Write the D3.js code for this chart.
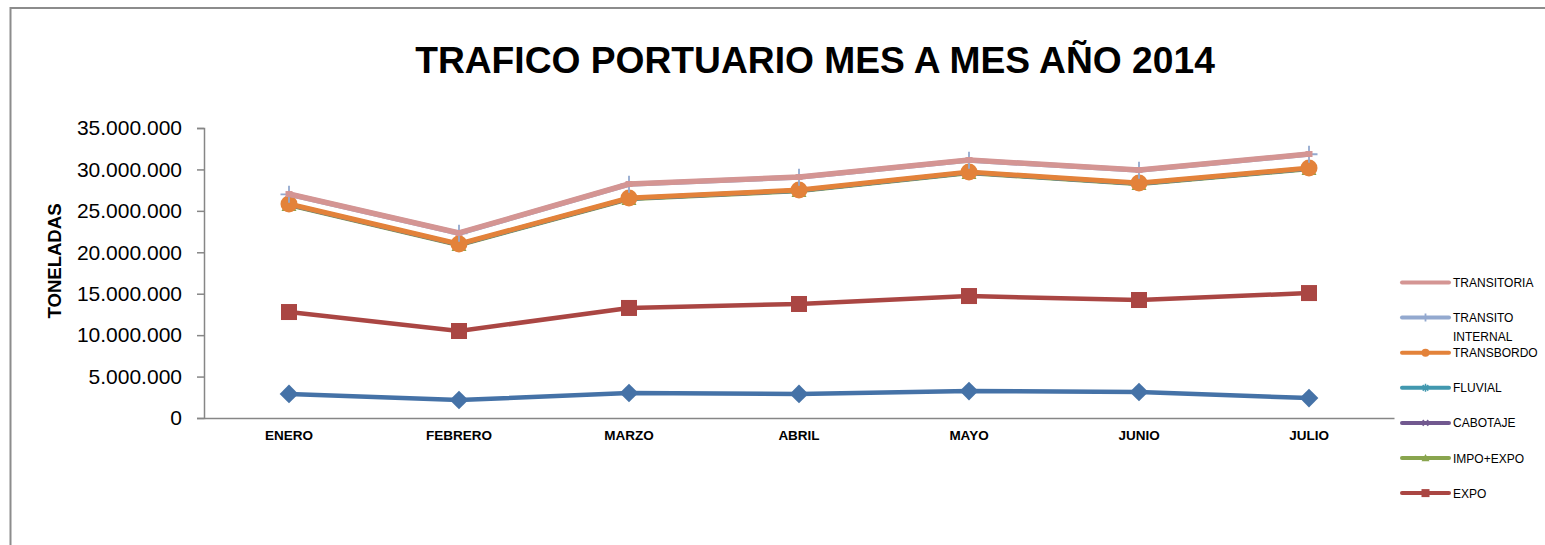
<!DOCTYPE html>
<html>
<head>
<meta charset="utf-8">
<script src="https://cdn.jsdelivr.net/npm/d3@7"></script>
<style>
  html, body { margin: 0; padding: 0; background: #fff; }
  svg { display: block; }
  text { font-family: "Liberation Sans", Arial, sans-serif; fill: #000; }
</style>
</head>
<body>
<svg id="chart" width="1545" height="545"></svg>
<script>
// ---- data (plotted values, tonnes; stacked-line chart as shown) ----
const months = ["ENERO", "FEBRERO", "MARZO", "ABRIL", "MAYO", "JUNIO", "JULIO"];
const impo        = [2900000, 2170000, 3020000, 2900000, 3250000, 3140000, 2410000];
const expo        = [12790000, 10500000, 13280000, 13760000, 14720000, 14240000, 15080000];
const impoExpo    = [25710000, 20880000, 26430000, 27400000, 29570000, 28240000, 30050000];
const cabotaje    = [25770000, 20940000, 26490000, 27460000, 29630000, 28300000, 30110000];
const fluvial     = [25780000, 20950000, 26500000, 27470000, 29640000, 28310000, 30120000];
const transbordo  = [25830000, 21000000, 26550000, 27520000, 29690000, 28360000, 30170000];
const transito    = [27000000, 22300000, 28210000, 29050000, 31100000, 29900000, 31830000];
const transitoria = [27030000, 22330000, 28240000, 29080000, 31130000, 29930000, 31860000];
const yTicks = [0, 5000000, 10000000, 15000000, 20000000, 25000000, 30000000, 35000000];
const seriesNames = ["IMPO", "EXPO", "IMPO+EXPO", "CABOTAJE", "FLUVIAL", "TRANSBORDO", "TRANSITO INTERNAL", "TRANSITORIA"];
const legendOrder = ["TRANSITORIA", "TRANSITO INTERNAL", "TRANSBORDO", "FLUVIAL", "CABOTAJE", "IMPO+EXPO", "EXPO"];
const titleText = "TRAFICO PORTUARIO MES A MES AÑO 2014";
const yTitle = "TONELADAS";

// ---- styles ----
const seriesValues = [impo, expo, impoExpo, cabotaje, fluvial, transbordo, transito, transitoria];
const styles = {
  "IMPO":              {color: "#4572A7", marker: "diamond", width: 4.5},
  "EXPO":              {color: "#AA4643", marker: "square", width: 4.5},
  "IMPO+EXPO":         {color: "#89A54E", marker: "triangle", width: 4.5},
  "CABOTAJE":          {color: "#71588F", marker: "x", width: 4.5},
  "FLUVIAL":           {color: "#4198AF", marker: "star", width: 4.5},
  "TRANSBORDO":        {color: "#E3823A", marker: "circle", width: 5},
  "TRANSITO INTERNAL": {color: "#93A9CF", marker: "plus", width: 5},
  "TRANSITORIA":       {color: "#D49593", marker: "dash", width: 5.5}
};

const svg = d3.select("#chart");

// chart frame
svg.append("path")
  .attr("d", "M10.5,545 L10.5,8 L1545,8")
  .attr("fill", "none").attr("stroke", "#8c8c8c").attr("stroke-width", 2);

const x = d3.scaleBand().domain(months).range([204, 1394]);
const y = d3.scaleLinear().domain([0, 35000000]).range([418, 128]);
const cx = m => x(m) + x.bandwidth() / 2;

const loc = d3.formatLocale({decimal: ",", thousands: ".", grouping: [3], currency: ["", ""]});
const fmt = loc.format(",d");

// title
svg.append("text").attr("x", 815).attr("y", 73)
  .attr("text-anchor", "middle").attr("font-weight", "bold")
  .attr("font-size", 37.2).text(titleText);

// y axis
const yAxis = svg.append("g").attr("transform", "translate(204,0)")
  .call(d3.axisLeft(y).tickValues(yTicks).tickFormat(fmt).tickSize(7).tickPadding(15));
yAxis.select(".domain").attr("stroke", "#868686").attr("stroke-width", 1.5);
yAxis.selectAll(".tick line").attr("stroke", "#868686").attr("stroke-width", 1.5);
yAxis.selectAll(".tick text").attr("font-size", 21)
  .attr("font-family", "'Liberation Sans', Arial, sans-serif").attr("fill", "#000");

// x axis
const xAxis = svg.append("g").attr("transform", "translate(0,418)")
  .call(d3.axisBottom(x).tickSize(0).tickPadding(12));
xAxis.select(".domain").attr("stroke", "#868686").attr("stroke-width", 1.5);
xAxis.selectAll(".tick text").attr("font-size", 13.5).attr("font-weight", "bold")
  .attr("font-family", "'Liberation Sans', Arial, sans-serif").attr("fill", "#000");

// y title
svg.append("text").attr("transform", "translate(61,261) rotate(-90)")
  .attr("text-anchor", "middle").attr("font-weight", "bold")
  .attr("font-size", 19).attr("textLength", 115).attr("lengthAdjust", "spacingAndGlyphs")
  .text(yTitle);

// markers
function drawMarker(g, type, px, py, color, s) {
  const h = s / 2;
  switch (type) {
    case "diamond":
      g.append("path").attr("d", `M${px},${py - h * 1.1}L${px + h * 1.1},${py}L${px},${py + h * 1.1}L${px - h * 1.1},${py}Z`).attr("fill", color);
      break;
    case "square":
      g.append("rect").attr("x", px - h).attr("y", py - h).attr("width", s).attr("height", s).attr("fill", color);
      break;
    case "triangle":
      g.append("path").attr("d", `M${px},${py - h}L${px + h},${py + h * 0.8}L${px - h},${py + h * 0.8}Z`).attr("fill", color);
      break;
    case "x":
      g.append("path").attr("d", `M${px - h * 0.7},${py - h * 0.7}L${px + h * 0.7},${py + h * 0.7}M${px - h * 0.7},${py + h * 0.7}L${px + h * 0.7},${py - h * 0.7}`)
        .attr("stroke", color).attr("stroke-width", 1.5).attr("fill", "none");
      break;
    case "star":
      g.append("path").attr("d", `M${px - h * 0.7},${py - h * 0.7}L${px + h * 0.7},${py + h * 0.7}M${px - h * 0.7},${py + h * 0.7}L${px + h * 0.7},${py - h * 0.7}M${px},${py - h}L${px},${py + h}`)
        .attr("stroke", color).attr("stroke-width", 1.5).attr("fill", "none");
      break;
    case "circle":
      g.append("circle").attr("cx", px).attr("cy", py).attr("r", h).attr("fill", color);
      break;
    case "plus":
      g.append("path").attr("d", `M${px - h},${py}L${px + h},${py}M${px},${py - h}L${px},${py + h}`)
        .attr("stroke", color).attr("stroke-width", 1.8).attr("fill", "none");
      break;
    case "dash":
      g.append("rect").attr("x", px - h * 0.5).attr("y", py - 3).attr("width", s * 0.5).attr("height", 6).attr("fill", color);
      break;
  }
}

const markerSize = {diamond: 17, square: 16, triangle: 15, x: 14, star: 14, circle: 17, plus: 17, dash: 14};

const line = d3.line().x((d, i) => cx(months[i])).y(d => y(d));
const plot = svg.append("g");
seriesNames.forEach((name, si) => {
  const st = styles[name];
  const vals = seriesValues[si];
  const g = plot.append("g");
  g.append("path").datum(vals).attr("d", line)
    .attr("fill", "none").attr("stroke", st.color).attr("stroke-width", st.width)
    .attr("stroke-linejoin", "round");
  vals.forEach((v, i) => drawMarker(g, st.marker, cx(months[i]), y(v), st.color, markerSize[st.marker]));
});

// legend
const lg = svg.append("g");
legendOrder.forEach((name, i) => {
  const st = styles[name];
  const ly = 282.5 + i * 35.1;
  const g = lg.append("g");
  g.append("line").attr("x1", 1402).attr("x2", 1449).attr("y1", ly).attr("y2", ly)
    .attr("stroke", st.color).attr("stroke-width", 4).attr("stroke-linecap", "round");
  drawMarker(g, st.marker, 1425.5, ly, st.color, name === "TRANSITORIA" ? 0 : 8);
  const parts = name === "TRANSITO INTERNAL" ? ["TRANSITO", "INTERNAL"] : [name];
  parts.forEach((p, k) => {
    g.append("text").attr("x", 1453).attr("y", ly + 4.5 + k * 18.5)
      .attr("font-size", 12).text(p);
  });
});
</script>
</body>
</html>
